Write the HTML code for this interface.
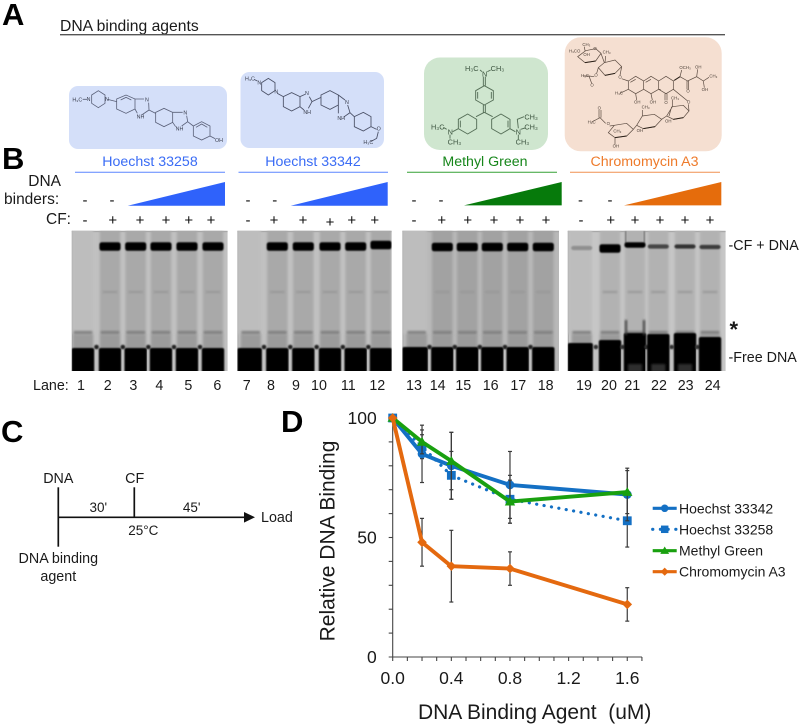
<!DOCTYPE html>
<html lang="en">
<head>
<meta charset="utf-8">
<title>DNA binding agents figure</title>
<style>
html,body{margin:0;padding:0;background:#fff;}
#figure{display:block;width:800px;height:725px;filter:blur(0.3px);}
text{font-family:"Liberation Sans",Arial,sans-serif;fill:#1a1a1a;}
.panel{font-size:31px;font-weight:bold;fill:#000;}
.sm{font-size:14.3px;}
.md{font-size:15.5px;}
.atom{font-size:16px;fill:#3c4050;}
.atomg{font-size:22px;fill:#3d5540;}
.atomo{font-size:13px;fill:#4a3e36;}
.mark{font-size:15px;text-anchor:middle;fill:#111;}
.mid{text-anchor:middle;}
</style>
</head>
<body>
<svg id="figure" xmlns="http://www.w3.org/2000/svg" width="800" height="725" viewBox="0 0 800 725">
<defs>
<filter id="b3" x="-30%" y="-30%" width="160%" height="160%"><feGaussianBlur stdDeviation="1.3"/></filter>
<filter id="b1" x="-30%" y="-60%" width="160%" height="220%"><feGaussianBlur stdDeviation="0.7"/></filter>
<filter id="b2" x="-60%" y="-100%" width="220%" height="300%"><feGaussianBlur stdDeviation="1"/></filter>
</defs>
<rect width="800" height="725" fill="#fff"/>

<text class="panel" x="2" y="25">A</text>
<text class="panel" x="2" y="169">B</text>
<text class="panel" x="1" y="442">C</text>
<text class="panel" x="281" y="432">D</text>

<text x="60" y="31" font-size="15.7">DNA binding agents</text>
<line x1="60" y1="34.7" x2="725" y2="34.7" stroke="#555" stroke-width="1.4"/>

<g id="structures">
<rect x="69" y="86" width="158" height="63" rx="9" fill="#d4dff9"/>
<rect x="240.5" y="72" width="143.5" height="76" rx="9" fill="#d4dff9"/>
<rect x="424" y="57.5" width="124" height="92.5" rx="16" fill="#cfe6cf"/>
<rect x="564.7" y="37.3" width="157" height="114" rx="16" fill="#f5dfd1"/>

<g transform="scale(0.33333)">
<path id="mol-a" fill="none" stroke="#5a6078" stroke-width="2.4" d="M248 298L262 298M275 285L295 272L315 285L315 310L295 323L275 310ZM323 298L350 305M350 297L378 285L405 297L405 327L378 340L350 327ZM405 297L432 297M405 327L412 340M446 308L447 330L425 345M447 330L467 340M467 337L492 325L518 337L518 367L492 380L467 367ZM518 337L548 337M518 367L527 380M560 347L563 365L545 378M563 365L580 378M580 378L605 365L630 378L630 408L605 420L580 408ZM630 408L645 416M588 382L605 372L622 382M362 300L378 292L394 300"/>
<text class="atom" x="217" y="304">H₃C</text><text class="atom" x="260" y="303">N</text><text class="atom" x="315" y="303">N</text><text class="atom" x="435" y="304">N</text><text class="atom" x="410" y="355">NH</text><text class="atom" x="550" y="343">N</text><text class="atom" x="527" y="392">NH</text><text class="atom" x="645" y="426">OH</text>
</g>
<g transform="scale(0.33333)">
<path id="mol-b" fill="none" stroke="#4a5066" stroke-width="2.6" d="M762 238L772 243M785 248L805 235L825 248L825 272L805 285L785 272ZM832 280L850 290M850 290L875 278L900 290L900 320L875 333L850 320ZM900 290L915 283M900 320L912 330M928 290L936 305L925 325M936 305L963 292M963 285L990 272L1015 285L1015 315L990 328L963 315ZM1015 285L1035 300M1015 315L1015 340M1043 315L1050 338L1030 352M1050 338L1063 350M1063 350L1090 337L1113 350L1113 380L1090 393L1063 380ZM1113 380L1130 388M1135 395L1130 415L1112 425"/>
<text class="atom" x="735" y="241">H₃C</text><text class="atom" x="772" y="253">N</text><text class="atom" x="823" y="280">N</text><text class="atom" x="915" y="285">N</text><text class="atom" x="910" y="342">NH</text><text class="atom" x="1035" y="312">N</text><text class="atom" x="1012" y="360">NH</text><text class="atom" x="1130" y="392">O</text><text class="atom" x="1090" y="432">H₃C</text>
</g>
<g transform="translate(400 20) scale(0.33333)">
<path id="mol-c" fill="none" stroke="#566f58" stroke-width="2.8" d="M250 170L250 197M256 170L256 197M253 197L280 212L280 240L253 255L227 240L227 212ZM233 216L233 236M274 216L274 236M250 255L250 277M256 255L256 277M253 277L228 290M253 277L278 290M175 298L203 282L230 298L230 326L203 342L175 326ZM275 298L303 282L330 298L330 326L303 342L275 326ZM181 302L181 322M324 302L324 322M175 326L158 335M330 326L346 335M150 344L150 356M355 344L355 358M140 328L130 322M355 325L352 298L372 290M362 328L375 324M240 150L246 155M262 155L272 150"/>
<text class="atomg" x="195" y="153">H₃C</text><text class="atomg" x="246" y="170">N</text><text class="atomg" x="272" y="153">CH₃</text>
<text class="atomg" x="93" y="329">H₃C</text><text class="atomg" x="143" y="343">N</text><text class="atomg" x="143" y="374">CH₃</text>
<text class="atomg" x="347" y="343">N</text><text class="atomg" x="373" y="299">CH₃</text><text class="atomg" x="373" y="329">CH₃</text><text class="atomg" x="347" y="374">CH₃</text>
</g>
<g transform="translate(565 36) scale(0.33333)">
<path id="mol-d" fill="none" stroke="#5c4c42" stroke-width="2.1" d="M38 62L60 80L92 75L108 52L92 38L62 44ZM108 52L118 80M60 44L58 32M100 95L120 118L150 112L170 92L150 72L118 80ZM120 80L122 60M100 95L95 112M88 122L72 120L55 120M72 120L80 142M170 92L165 118M170 128L190 135M190 135L212 121L236 135L236 160L212 173L190 160ZM236 135L258 121L281 135L281 160L258 173L236 160ZM281 135L303 121L325 135L325 160L303 173L281 160ZM196 139L212 130M242 139L258 130M287 160L281 160M190 160L165 172M212 173L215 192M258 173L262 192M300 173L300 193M306 173L306 193M325 135L345 122M345 122L350 102M345 122L368 135L395 122L415 135L432 124M366 135L366 160M371 135L371 160M395 122L398 100M415 135L418 155M325 160L368 195M370 205L372 225M305 240L325 250L355 245L372 225L355 208L322 212ZM322 212L322 192M215 268L235 278L270 272L290 250L268 235L232 240ZM232 240L232 222M130 290L150 305L185 300L205 280L185 262L148 268ZM148 268L134 270M122 262L105 245L80 258M102 245L102 222M108 245L108 222M150 305L150 325M205 280L215 268M290 250L305 240M320 212L312 240"/>
<path fill="none" stroke="#2a2018" stroke-width="3" d="M60 80L92 75M120 118L150 112M235 278L270 272M150 305L185 300M325 250L355 245M345 122L328 133"/>
<text class="atomo" x="12" y="50">H₃CO</text><text class="atomo" x="52" y="30">CH₃</text><text class="atomo" x="55" y="60">OH</text><text class="atomo" x="113" y="52">CH₃</text><text class="atomo" x="85" y="42">O</text>
<text class="atomo" x="48" y="123">H₃C</text><text class="atomo" x="88" y="122">O</text><text class="atomo" x="76" y="152">O</text><text class="atomo" x="160" y="128">O</text><text class="atomo" x="150" y="175">H₃C</text>
<text class="atomo" x="207" y="203">OH</text><text class="atomo" x="254" y="203">OH</text><text class="atomo" x="298" y="204">O</text><text class="atomo" x="343" y="99">OCH₃</text><text class="atomo" x="390" y="98">OH</text><text class="atomo" x="433" y="125">CH₃</text><text class="atomo" x="364" y="170">O</text><text class="atomo" x="410" y="165">OH</text><text class="atomo" x="366" y="203">O</text><text class="atomo" x="318" y="190">CH₃</text><text class="atomo" x="230" y="218">CH₃</text><text class="atomo" x="300" y="260">OH</text><text class="atomo" x="215" y="288">OH</text><text class="atomo" x="68" y="263">H₃C</text><text class="atomo" x="98" y="220">O</text><text class="atomo" x="125" y="267">O</text><text class="atomo" x="145" y="290">CH₃</text><text class="atomo" x="143" y="335">OH</text>
</g>
</g>

<g>
<text class="mid" x="150" y="166" font-size="14.2" style="fill:#3a6cf5">Hoechst 33258</text>
<text class="mid" x="313" y="166" font-size="14.2" style="fill:#3a6cf5">Hoechst 33342</text>
<text class="mid" x="485" y="166" font-size="14.2" style="fill:#16861a">Methyl Green</text>
<text class="mid" x="644.5" y="166" font-size="14.2" style="fill:#ee7a2a">Chromomycin A3</text>
<line x1="75" y1="172.3" x2="225" y2="172.3" stroke="#5b86ff" stroke-width="1"/>
<line x1="238.5" y1="172.3" x2="388" y2="172.3" stroke="#5b86ff" stroke-width="1"/>
<line x1="407" y1="172.3" x2="557" y2="172.3" stroke="#35a035" stroke-width="1"/>
<line x1="570" y1="172.3" x2="720" y2="172.3" stroke="#f09050" stroke-width="1"/>
<polygon points="127.7,205.7 225,205.7 225,182" fill="#2f62fb"/>
<polygon points="290.7,205.7 387.7,205.7 387.7,182" fill="#2f62fb"/>
<polygon points="464,205.4 561.7,205.4 561.7,182" fill="#067a0b"/>
<polygon points="624,205.4 721.3,205.4 721.3,182" fill="#e56c0c"/>
</g>

<text class="md" x="61" y="186" text-anchor="end">DNA</text>
<text class="md" x="4" y="204">binders:</text>
<text class="md" x="46" y="224">CF:</text>
<g id="signs"></g>
<g id="gels"></g>
<g id="lane-numbers">
<text class="sm" x="33" y="390">Lane:</text>
</g>
<text class="sm" x="728.5" y="250">-CF + DNA</text>
<text x="729.5" y="337" font-size="22" font-weight="bold">*</text>
<text class="sm" x="728.5" y="362">-Free DNA</text>

<g>
<line x1="58.3" y1="487.3" x2="58.3" y2="546.7" stroke="#111" stroke-width="1.7"/>
<line x1="134.3" y1="487.3" x2="134.3" y2="517" stroke="#111" stroke-width="1.7"/>
<line x1="58.3" y1="517.3" x2="246" y2="517.3" stroke="#111" stroke-width="1.7"/>
<polygon points="244,512 255,517.3 244,522.6" fill="#111"/>
<text class="sm mid" x="58.3" y="483">DNA</text>
<text class="sm mid" x="134.7" y="483">CF</text>
<text class="mid" font-size="13.5" x="98.3" y="512">30'</text>
<text class="mid" font-size="13.5" x="191.7" y="512">45'</text>
<text class="mid" font-size="13.5" x="143.3" y="535">25°C</text>
<text class="sm" x="261" y="522">Load</text>
<text class="sm mid" x="58.3" y="563">DNA binding</text>
<text class="sm mid" x="58.3" y="581">agent</text>
</g>

<g id="chart">
<text class="mid" font-size="21" transform="translate(334.5 541) rotate(-90)">Relative DNA Binding</text>
<text class="mid" font-size="21" x="534.7" y="719" xml:space="preserve">DNA Binding Agent&#160;&#160;(uM)</text>
</g>
</svg>

<script>
// ---- Chart data (panel D) ----
var doses = [0, 0.2, 0.4, 0.8, 1.6];
var seriesNames = ["Hoechst 33342", "Hoechst 33258", "Methyl Green", "Chromomycin A3"];
var hoechst33342 = [100, 85, 80, 72, 68];
var hoechst33342Err = [0, 12, 14, 14, 11];
var hoechst33258 = [100, 88, 76, 66, 57];
var hoechst33258Err = [0, 5, 10, 10, 11];
var methylGreen = [100, 90, 82, 65, 69];
var methylGreenErr = [0, 5, 12, 9, 9];
var chromomycinA3 = [100, 48, 38, 37, 22];
var chromomycinA3Err = [0, 10, 15, 7, 7];
var xTickLabels = ["0.0", "0.4", "0.8", "1.2", "1.6"];
var yTickLabels = ["0", "50", "100"];

// ---- Gel data (panel B) ----
var gelBoxes = [[71.7, 156, "#c1c1c1"], [237.3, 154.4, "#c1c1c1"], [402.3, 156.7, "#b8b8b8"], [567.7, 158, "#c6c6c6"]];
var laneCenters = [
  [83, 110, 135.7, 161, 187, 213],
  [250.7, 277.3, 303.3, 330, 355.7, 381],
  [416.7, 442.3, 467.3, 492.3, 517.7, 543.3],
  [581.7, 610, 635, 658.3, 685, 710]
];
var bandStrength = [
  [0, 1, 1, 1, 0.95, 0.9],
  [0, 1, 1, 0.95, 0.9, 0.75],
  [0, 1, 1, 1, 1, 1],
  [0.03, 1, 0.95, 0.4, 0.5, 0.45]
];
var bandCenter = [
  [246.5, 246.5, 246.5, 246.5, 246.5, 246.5],
  [246.5, 246.5, 246.5, 246.5, 246.5, 245],
  [247, 247, 247, 247, 247, 247],
  [248, 248.5, 245, 246.5, 246.5, 247]
];
var freeDnaTop = [
  [348, 348, 348, 348, 348, 348],
  [348, 348, 348, 348, 348, 348],
  [347, 347, 347, 347, 347, 347],
  [343, 340, 333, 334, 333, 337]
];
var laneLabels = [
  ["1", "2", "3", "4", "5", "6"],
  ["7", "8", "9", "10", "11", "12"],
  ["13", "14", "15", "16", "17", "18"],
  ["19", "20", "21", "22", "23", "24"]
];
var laneLabelX = [
  [81, 107.7, 133.3, 159.3, 188.3, 217.3],
  [246.7, 271, 296, 319, 348.3, 377.3],
  [414, 437.7, 463.3, 490.7, 518.3, 545.7],
  [584, 609, 632.3, 659, 685.7, 712.7]
];
var binderSigns = [
  [85, 112],
  [248, 274.7],
  [414, 441],
  [580.5, 610]
];
var cfSignX = [
  [85, 112.7, 140, 166, 188.7, 211],
  [248, 274, 303, 330, 351.7, 374.7],
  [414, 441.7, 467.7, 494, 520, 546],
  [581, 610.7, 635, 660, 685, 710]
];
var NS = "http://www.w3.org/2000/svg";
function mk(parent, tag, attrs) {
  var e = document.createElementNS(NS, tag);
  for (var k in attrs) e.setAttribute(k, attrs[k]);
  parent.appendChild(e);
  return e;
}

// ---- Gels ----
var gels = document.getElementById("gels");
gelBoxes.forEach(function (box, gi) {
  var gelTop = 230.7, gelBottom = 371, x0 = box[0], w = box[1];
  var g = mk(gels, "g", {});
  
  
  var clip = mk(mk(g, "defs", {}), "clipPath", { id: "gc" + gi });
  mk(clip, "rect", { x: x0, y: gelTop, width: w, height: gelBottom - gelTop });
  var c = mk(g, "g", { "clip-path": "url(#gc" + gi + ")" });
  mk(c, "rect", { x: x0, y: gelTop, width: w, height: gelBottom - gelTop, fill: box[2] });
  mk(c, "rect", { x: x0, y: gelTop, width: w, height: 1.5, fill: "#a8a8a8" });
  mk(c, "rect", { x: x0, y: gelTop, width: 1.2, height: gelBottom - gelTop, fill: "#a8a8a8" });
  laneCenters[gi].forEach(function (cx, li) {
    var lw = 20.5, s = bandStrength[gi][li], ft = freeDnaTop[gi][li], bc = bandCenter[gi][li];
    var loaded = s > 0.2;
    var laneFill = loaded ? (gi === 2 ? "#a2a2a2" : (gi === 3 ? "#b2b2b2" : "#a9a9a9")) : "#bdbdbd";
    var leftX = li === 0 ? x0 : cx - lw / 2;
    var laneW = li === 0 ? cx + lw / 2 - x0 : lw;
    var lane = mk(c, "rect", { x: leftX, y: gelTop - 6, width: laneW, height: 340 - gelTop, fill: laneFill, filter: "url(#b3)" });
    
    
    mk(c, "rect", { x: cx - lw / 2, y: 334, width: lw, height: 16, fill: "#9b9b9b", filter: "url(#b3)" });
    mk(c, "rect", { x: cx - lw / 2 + 1, y: 331, width: lw - 2, height: 3, fill: "#7f7f7f", filter: "url(#b2)" });
    if (loaded) {
      mk(c, "rect", { x: cx - lw / 2 + 3, y: 291, width: lw - 6, height: 2, fill: "#979797", filter: "url(#b2)" });
    }
    if (li > 0) {
      var gap = (laneCenters[gi][li - 1] + cx) / 2;
      mk(c, "rect", { x: gap - 1.2, y: 349, width: 2.4, height: 26, fill: "#c2c2c2" });
      mk(c, "circle", { cx: gap, cy: 347, r: 2.3, fill: gi === 3 ? "#333" : "#222", filter: "url(#b1)" });
    }
    var fl = li === 0 ? x0 : cx - 11.2;
    var free = mk(c, "rect", { x: fl, y: ft, width: cx + 11.2 - fl, height: gelBottom - ft + 4, rx: 2, fill: "#030303", filter: "url(#b1)" });
    
    
    if (gi === 3 && li >= 2 && li <= 4) {
      mk(c, "rect", { x: cx - 7, y: 364, width: 14, height: 8, fill: "#2e2e2e", filter: "url(#b2)" });
    }
    if (gi === 3 && li === 2) {
      mk(c, "rect", { x: cx - 10, y: 320, width: 2, height: 15, fill: "#3a3a3a", filter: "url(#b2)" });
      mk(c, "rect", { x: cx + 8, y: 320, width: 2, height: 15, fill: "#3a3a3a", filter: "url(#b2)" });
      mk(c, "rect", { x: cx - 10, y: 231, width: 1.2, height: 13, fill: "#6a6a6a", filter: "url(#b1)" });
      mk(c, "rect", { x: cx + 8.8, y: 231, width: 1.2, height: 13, fill: "#6a6a6a", filter: "url(#b1)" });
    }
    if (s > 0) {
      var h = s > 0.6 ? 8.6 : 4.2;
      if (gi === 3 && li === 2) h = 5.5;
      var v = Math.round(150 - 150 * Math.min(1, s * 1.35));
      var band = mk(c, "rect", { x: cx - lw / 2 - 0.3, y: bc - h / 2, width: lw + 0.6, height: h, rx: 2.5, fill: "rgb(" + v + "," + v + "," + v + ")", filter: "url(#b1)" });
      
      
    }
  });
});

// ---- Condition signs and lane numbers ----
var signs = document.getElementById("signs");
binderSigns.forEach(function (row) {
  row.forEach(function (x) {
    var t = mk(signs, "text", { x: x, y: 205, "class": "mark" });
    
    
    t.textContent = "-";
  });
});
cfSignX.forEach(function (row) {
  row.forEach(function (x, i) {
    var t = mk(signs, "text", { x: x, y: x === 330 ? 227 : 225, "class": "mark" });
    
    
    t.textContent = i === 0 ? "-" : "+";
  });
});
var ln = document.getElementById("lane-numbers");
laneLabels.forEach(function (row, gi) {
  row.forEach(function (label, i) {
    var t = mk(ln, "text", { x: laneLabelX[gi][i], y: 390, "class": "sm mid" });
    
    
    t.textContent = label;
  });
});

// ---- Chart ----
function sx(v) { return 392.7 + 146.6 * v; }
function sy(v) { return 657 - 2.39 * v; }
var chart = document.getElementById("chart");
var axes = mk(chart, "g", { stroke: "#444", "stroke-width": 1.1 });


mk(axes, "line", { x1: sx(0), y1: sy(0) + 0.5, x2: sx(0), y2: sy(100) });
mk(axes, "line", { x1: sx(0) - 4, y1: sy(0), x2: sx(1.7), y2: sy(0) });
for (var yt = 10; yt <= 100; yt += 10) {
  mk(axes, "line", { x1: sx(0) - 4, y1: sy(yt), x2: sx(0), y2: sy(yt) });
}
for (var xt = 0; xt <= 17; xt++) {
  mk(axes, "line", { x1: sx(xt / 10), y1: sy(0), x2: sx(xt / 10), y2: sy(0) + 4 });
}
xTickLabels.forEach(function (lab) {
  var t = mk(chart, "text", { x: sx(parseFloat(lab)), y: 684, "font-size": 17.5, "class": "mid" });
  
  
  t.textContent = lab;
});
yTickLabels.forEach(function (lab) {
  var t = mk(chart, "text", { x: 376.7, y: sy(parseFloat(lab)) + 6, "font-size": 17.5, "text-anchor": "end" });
  
  
  t.textContent = lab;
});

function errorBars(vals, errs) {
  var g = mk(chart, "g", { stroke: "#3a3a3a", "stroke-width": 1.2 });
  
  
  vals.forEach(function (v, i) {
    if (!errs[i]) return;
    var x = sx(doses[i]), hi = sy(v + errs[i]), lo = sy(v - errs[i]);
    mk(g, "line", { x1: x, y1: hi, x2: x, y2: lo });
    mk(g, "line", { x1: x - 2, y1: hi, x2: x + 2, y2: hi });
    mk(g, "line", { x1: x - 2, y1: lo, x2: x + 2, y2: lo });
  });
}
function marker(parent, kind, x, y, col, k) {
  if (kind === "circle") return mk(parent, "circle", { cx: x, cy: y, r: 4.4 * k, fill: col });
  if (kind === "square") return mk(parent, "rect", { x: x - 4.4 * k, y: y - 4.4 * k, width: 8.8 * k, height: 8.8 * k, fill: col });
  if (kind === "triangle") return mk(parent, "polygon", { points: (x - 5.2 * k) + "," + (y + 3.8 * k) + " " + x + "," + (y - 5 * k) + " " + (x + 5.2 * k) + "," + (y + 3.8 * k), fill: col });
  return mk(parent, "polygon", { points: (x - 4.8 * k) + "," + y + " " + x + "," + (y - 4.8 * k) + " " + (x + 4.8 * k) + "," + y + " " + x + "," + (y + 4.8 * k), fill: col });
}
function series(name, vals, errs, col, kind, dash) {
  errorBars(vals, errs);
  var g = mk(chart, "g", {});
  
  
  g.setAttribute('aria-label', name);
  var pts = vals.map(function (v, i) { return sx(doses[i]).toFixed(1) + "," + sy(v).toFixed(1); }).join(" ");
  var attrs = { points: pts, fill: "none", stroke: col, "stroke-width": dash ? 3.2 : 3.9, "stroke-linejoin": "round" };
  if (dash) { attrs["stroke-dasharray"] = "0.1 7.4"; attrs["stroke-linecap"] = "round"; }
  mk(g, "polyline", attrs);
  vals.forEach(function (v, i) {
    var m = marker(g, kind, sx(doses[i]), sy(v), col, 1);
    
    
  });
}
series(seriesNames[1], hoechst33258, hoechst33258Err, "#1470c4", "square", true);
series(seriesNames[0], hoechst33342, hoechst33342Err, "#1470c4", "circle", false);
series(seriesNames[2], methylGreen, methylGreenErr, "#19a00f", "triangle", false);
series(seriesNames[3], chromomycinA3, chromomycinA3Err, "#e4690f", "diamond", false);

var legendColors = ["#1470c4", "#1470c4", "#19a00f", "#e4690f"];
var legendKinds = ["circle", "square", "triangle", "diamond"];
var legendRows = [508.3, 529.3, 550.7, 571.7];
var legend = mk(chart, "g", {});


seriesNames.forEach(function (name, i) {
  var e = mk(legend, "g", {});
  
  
  var a = { x1: 652.7, y1: legendRows[i], x2: 676.7, y2: legendRows[i], stroke: legendColors[i], "stroke-width": 3.2 };
  if (i === 1) { a["stroke-dasharray"] = "0.1 7.6"; a["stroke-linecap"] = "round"; }
  mk(e, "line", a);
  marker(e, legendKinds[i], 664.7, legendRows[i], legendColors[i], 0.85);
  var t = mk(e, "text", { x: 679, y: legendRows[i] + 5, "font-size": 14 });
  t.textContent = name;
});
</script>
</body>
</html>
